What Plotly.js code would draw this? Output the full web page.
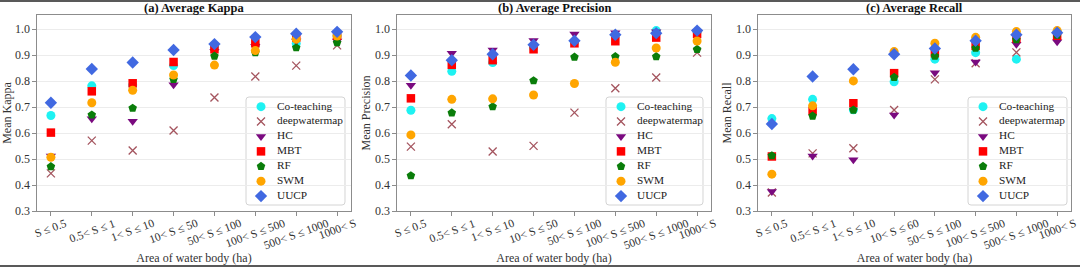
<!DOCTYPE html>
<html><head><meta charset="utf-8">
<script src="https://cdn.plot.ly/plotly-3.0.1.min.js"></script>
<style>html,body{margin:0;padding:0;background:#fff}#chart{width:1080px;height:267px}</style>
</head><body><div id="chart"></div>
<script>
// ---------- data ----------
const categories = ["S ≤ 0.5", "0.5< S ≤ 1", "1< S ≤ 10", "10< S ≤ 50", "50< S ≤ 100", "100< S ≤ 500", "500< S ≤ 1000", "1000< S"];
const categoriesRecall = ["S ≤ 0.5", "0.5< S ≤ 1", "1< S ≤ 10", "10< S ≤ 60", "50< S ≤ 100", "100< S ≤ 500", "500< S ≤ 1000", "1000< S"];
const seriesNames = ["Co-teaching", "deepwatermap", "HC", "MBT", "RF", "SWM", "UUCP"];
const panelTitles = ["(a) Average Kappa", "(b) Average Precision", "(c) Average Recall"];
const yTitles = ["Mean Kappa", "Mean Precision", "Mean Recall"];
const xTitle = "Area of water body (ha)";

const kappaCoTeaching  = [0.668, 0.782, 0.785, 0.860, 0.930, 0.940, 0.945, 0.975];
const kappaDeepwatermap= [0.445, 0.571, 0.533, 0.610, 0.737, 0.818, 0.860, 0.938];
const kappaHC          = [0.512, 0.655, 0.646, 0.786, 0.915, 0.935, 0.955, 0.955];
const kappaMBT         = [0.602, 0.761, 0.792, 0.874, 0.923, 0.946, 0.968, 0.975];
const kappaRF          = [0.471, 0.670, 0.696, 0.807, 0.897, 0.910, 0.929, 0.949];
const kappaSWM         = [0.507, 0.717, 0.765, 0.824, 0.862, 0.918, 0.962, 0.974];
const kappaUUCP        = [0.717, 0.847, 0.872, 0.920, 0.943, 0.970, 0.983, 0.990];

const precCoTeaching   = [0.688, 0.838, 0.872, 0.930, 0.950, 0.975, 0.995, 0.990];
const precDeepwatermap = [0.548, 0.634, 0.529, 0.551, 0.679, 0.773, 0.814, 0.910];
const precHC           = [0.784, 0.908, 0.920, 0.957, 0.982, 0.987, 0.990, 0.992];
const precMBT          = [0.734, 0.863, 0.881, 0.923, 0.946, 0.954, 0.968, 0.982];
const precRF           = [0.436, 0.678, 0.702, 0.802, 0.893, 0.895, 0.895, 0.923];
const precSWM          = [0.593, 0.730, 0.732, 0.747, 0.791, 0.873, 0.928, 0.955];
const precUUCP         = [0.822, 0.881, 0.904, 0.940, 0.956, 0.979, 0.985, 0.995];

const recCoTeaching    = [0.656, 0.730, 0.690, 0.798, 0.885, 0.910, 0.885, 0.990];
const recDeepwatermap  = [0.371, 0.522, 0.542, 0.689, 0.807, 0.869, 0.911, 0.970];
const recHC            = [0.375, 0.512, 0.497, 0.670, 0.833, 0.874, 0.942, 0.952];
const recMBT           = [0.510, 0.685, 0.715, 0.831, 0.908, 0.936, 0.965, 0.975];
const recRF            = [0.513, 0.666, 0.689, 0.815, 0.897, 0.927, 0.960, 0.978];
const recSWM           = [0.442, 0.705, 0.801, 0.914, 0.946, 0.969, 0.991, 0.995];
const recUUCP          = [0.635, 0.818, 0.846, 0.904, 0.926, 0.956, 0.979, 0.987];

// ---------- styling ----------
const FONT = "Liberation Serif";
const styles = [
  {symbol: "circle", color: "#1ef2f2", size: 9},
  {symbol: "x-thin-open", color: "#a4545e", size: 8, lw: 1.3},
  {symbol: "triangle-down", color: "#7a0a7f", size: 9},
  {symbol: "square", color: "#ff0000", size: 8.5},
  {symbol: "pentagon", color: "#0a7d0a", size: 9},
  {symbol: "circle", color: "#ffa500", size: 9},
  {symbol: "diamond", color: "#4169e1", size: 9.5}
];
const panels = [
  {cats: categories, data: [kappaCoTeaching, kappaDeepwatermap, kappaHC, kappaMBT, kappaRF, kappaSWM, kappaUUCP]},
  {cats: categories, data: [precCoTeaching, precDeepwatermap, precHC, precMBT, precRF, precSWM, precUUCP]},
  {cats: categoriesRecall, data: [recCoTeaching, recDeepwatermap, recHC, recMBT, recRF, recSWM, recUUCP]}
];

// layout geometry (plot-area fractions; margins l=37 r=9 t=15 b=56 -> 1034 x 196)
const xDomains = [[0, 0.30368], [0.34816, 0.65184], [0.69729, 1]];
const legendX = [[0.20213, 0.29787], [0.55029, 0.64410], [0.90039, 0.99613]];
const legendW = [99, 97, 99];
const legendY = [0.03061, 0.58163];

function marker(s) {
  const m = {symbol: s.symbol, color: s.color, size: s.size, line: {width: 0, color: s.color}};
  if (s.lw) m.line.width = s.lw;
  return m;
}

const traces = [];
const annotations = [];
const shapes = [];
const layout = {
  width: 1080, height: 267,
  margin: {l: 37, r: 9, t: 15, b: 56},
  paper_bgcolor: "#ffffff", plot_bgcolor: "rgba(0,0,0,0)",
  showlegend: false,
  font: {family: FONT, color: "#333"},
  annotations: annotations, shapes: shapes
};

panels.forEach((p, k) => {
  const sfx = k === 0 ? "" : String(k + 1);
  const xa = "x" + sfx, ya = "y" + sfx;
  p.data.forEach((vals, i) => {
    traces.push({
      type: "scatter", mode: "markers", name: seriesNames[i],
      x: p.cats, y: vals, xaxis: xa, yaxis: ya,
      marker: marker(styles[i]), hoverinfo: "x+y+name"
    });
  });
  layout["xaxis" + sfx] = {
    domain: xDomains[k], anchor: ya, type: "category",
    range: [-0.34, 7.34], showticklabels: false,
    ticks: "outside", ticklen: 4, tickcolor: "#8c8c8c",
    showgrid: false, zeroline: false,
    showline: true, mirror: true, linecolor: "#8c8c8c", linewidth: 1.2,
    title: {text: xTitle, font: {family: FONT, size: 12, color: "#333"}, standoff: 38}
  };
  layout["yaxis" + sfx] = {
    domain: [0, 1], anchor: xa, range: [0.3, 1.055],
    tick0: 0.3, dtick: 0.1, tickformat: ".1f",
    ticks: "outside", ticklen: 3.5, tickcolor: "#8c8c8c",
    tickfont: {family: FONT, size: 12, color: "#333"},
    showgrid: true, gridcolor: "#ececec", gridwidth: 1, zeroline: false,
    showline: true, mirror: true, linecolor: "#8c8c8c", linewidth: 1.2,
    title: {text: yTitles[k], font: {family: FONT, size: 12, color: "#333"}, standoff: 1}
  };
  // panel title
  annotations.push({
    text: panelTitles[k], xref: xa + " domain", yref: "paper", x: 0.5, y: 1.0357,
    xanchor: "center", yanchor: "middle", showarrow: false,
    font: {family: FONT, size: 12.5, color: "#111", weight: "bold"}
  });
  // rotated category labels
  p.cats.forEach(c => {
    annotations.push({
      text: c, xref: xa, yref: "paper", x: c, y: -0.016,
      xanchor: "center", yanchor: "top", textangle: -20, showarrow: false,
      font: {family: FONT, size: 11.5, color: "#333"}
    });
  });

  // legend drawn on its own small axes
  const lsfx = String(k + 4);
  layout["xaxis" + lsfx] = {domain: legendX[k], anchor: "y" + lsfx, range: [0, legendW[k]], visible: false, fixedrange: true};
  layout["yaxis" + lsfx] = {domain: legendY, anchor: "x" + lsfx, range: [6.6, -0.65], visible: false, fixedrange: true};
  const w = 1, h = 1, rx = 3 / legendW[k], ry = 3 / 108;
  shapes.push({
    type: "path", xref: "x" + lsfx + " domain", yref: "y" + lsfx + " domain", layer: "below",
    path: `M ${rx} 0 L ${w - rx} 0 Q ${w} 0 ${w} ${ry} L ${w} ${h - ry} Q ${w} ${h} ${w - rx} ${h} L ${rx} ${h} Q 0 ${h} 0 ${h - ry} L 0 ${ry} Q 0 0 ${rx} 0 Z`,
    fillcolor: "rgba(255,255,255,0.85)", line: {color: "#d4d4d4", width: 1}
  });
  seriesNames.forEach((nm, i) => {
    traces.push({
      type: "scatter", mode: "markers", x: [15], y: [i],
      xaxis: "x" + lsfx, yaxis: "y" + lsfx, marker: marker(styles[i]), hoverinfo: "skip"
    });
  });
  traces.push({
    type: "scatter", mode: "text", x: seriesNames.map(() => 31), y: seriesNames.map((_, i) => i),
    text: seriesNames, textposition: "middle right", cliponaxis: false,
    textfont: {family: FONT, size: 11.3, color: "#222"},
    xaxis: "x" + lsfx, yaxis: "y" + lsfx, hoverinfo: "skip"
  });
});

// thin dark frame lines at top and bottom of the image
shapes.push({type: "line", xref: "paper", yref: "paper", x0: -37 / 1034, x1: 1043 / 1034, y0: 1.0715, y1: 1.0715, line: {color: "#222", width: 1.5}});
shapes.push({type: "line", xref: "paper", yref: "paper", x0: -37 / 1034, x1: 1043 / 1034, y0: -0.2806, y1: -0.2806, line: {color: "#222", width: 1.5}});

Plotly.newPlot("chart", traces, layout, {displayModeBar: false, responsive: false});
</script>
</body></html>
